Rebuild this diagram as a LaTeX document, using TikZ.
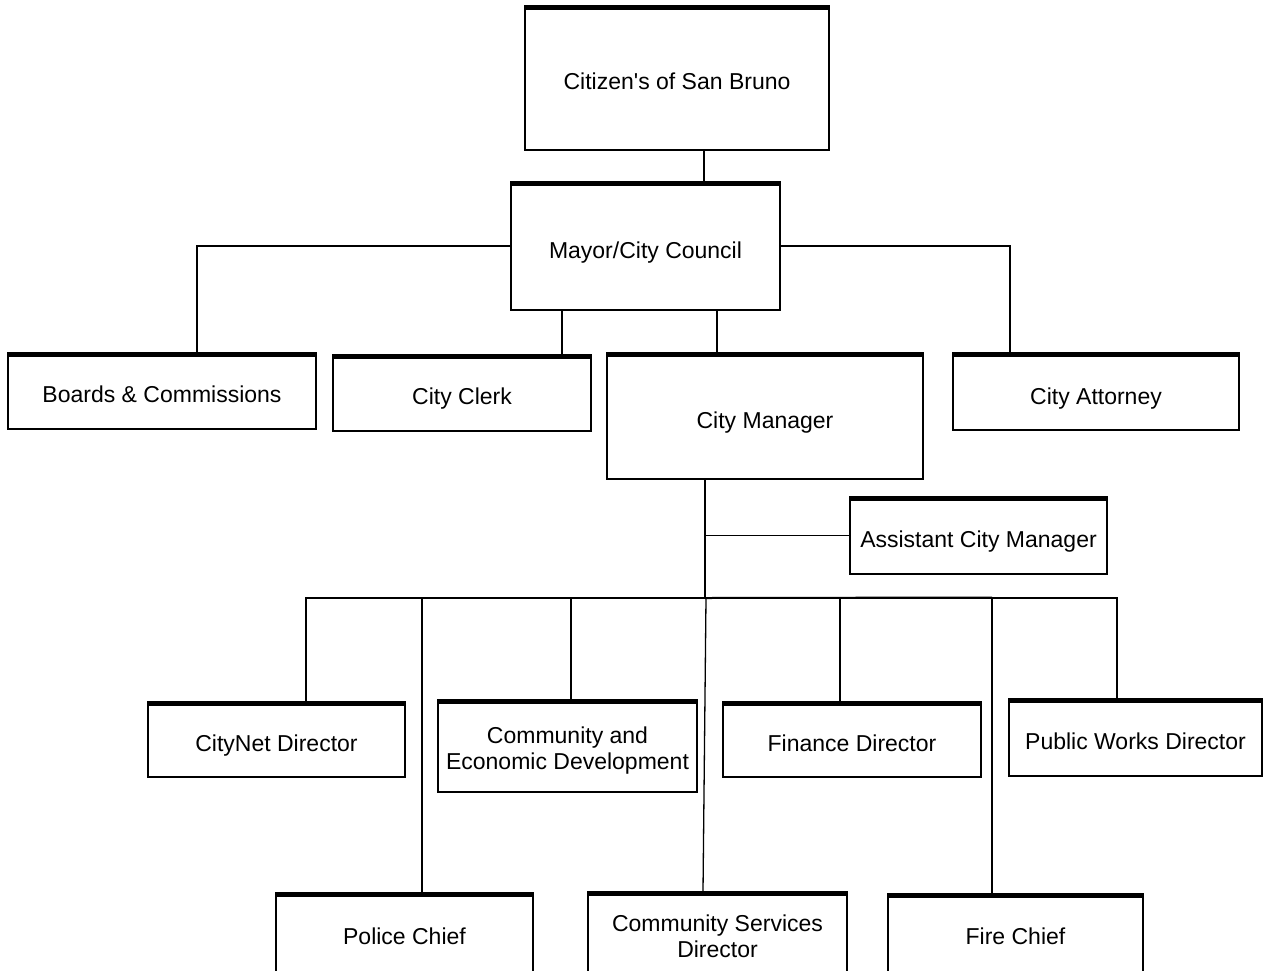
\documentclass[tikz,border=0pt]{standalone}
\usepackage{fontspec}
\setmainfont{Liberation Sans}[Ligatures=TeXOff]
\begin{document}
\begin{tikzpicture}[x=1pt,y=-1pt,
  box/.style={draw, line width=1.4pt, rectangle, inner sep=0pt},
  txt/.style={align=center, inner sep=0pt, text depth=0pt, font=\fontsize{23}{26}\selectfont},
  conn/.style={line width=1.3pt},
  thickconn/.style={line width=2.6pt}]
\useasboundingbox (0,0) rectangle (1263,970);
\clip (0,0) rectangle (1263,970);
\fill[white] (0,0) rectangle (1263,970);
% boxes
\node[box, minimum width=304pt, minimum height=144pt] (citizen) at (677,78) {};
\node[box, minimum width=269pt, minimum height=128pt] (mayor) at (645.5,246) {};
\node[box, minimum width=308pt, minimum height=76pt] (boards) at (162,391) {};
\node[box, minimum width=258pt, minimum height=76pt] (clerk) at (462,393) {};
\node[box, minimum width=316pt, minimum height=126pt] (cm) at (765,416) {};
\node[box, minimum width=286pt, minimum height=77pt] (attorney) at (1096,391.5) {};
\node[box, minimum width=257pt, minimum height=77pt] (asst) at (978.5,535.5) {};
\node[box, minimum width=257pt, minimum height=75pt] (citynet) at (276.5,739.5) {};
\node[box, minimum width=259pt, minimum height=92pt] (ced) at (567.5,746) {};
\node[box, minimum width=258pt, minimum height=75pt] (finance) at (852,739.5) {};
\node[box, minimum width=253pt, minimum height=77pt] (pw) at (1135.5,737.5) {};
\node[box, minimum width=257pt, minimum height=87pt] (police) at (404.5,936.5) {};
\node[box, minimum width=259pt, minimum height=88pt] (csd) at (717.5,936) {};
\node[box, minimum width=255pt, minimum height=86pt] (fire) at (1015.5,937) {};
% texts
\node[txt] (citizenT) at ([yshift=-3pt]citizen.center) {Citizen's of San Bruno};
\node[txt] (mayorT) at ([yshift=-4pt]mayor.center) {Mayor/City Council};
\node[txt] (boardsT) at ([yshift=-3pt]boards.center) {Boards \& Commissions};
\node[txt] (clerkT) at ([yshift=-3pt]clerk.center) {City Clerk};
\node[txt] (cmT) at ([yshift=-4pt]cm.center) {City Manager};
\node[txt] (attorneyT) at ([yshift=-4.5pt]attorney.center) {City Attorney};
\node[txt] (asstT) at ([yshift=-3.5pt]asst.center) {Assistant City Manager};
\node[txt] (citynetT) at ([yshift=-3.5pt]citynet.center) {CityNet Director};
\node[txt] (cedT) at ([yshift=-2pt]ced.center) {Community and\\Economic Development};
\node[txt] (financeT) at ([yshift=-3.5pt]finance.center) {Finance Director};
\node[txt] (pwT) at ([yshift=-3.5pt]pw.center) {Public Works Director};
\node[txt] (policeT) at (police.center) {Police Chief};
\node[txt] (csdT) at (csd.center) {Community Services\\Director};
\node[txt] (fireT) at ([yshift=1pt]fire.center) {Fire Chief};
% thick top bars
\foreach \n in {citizen,mayor,boards,clerk,cm,attorney,asst,citynet,ced,finance,pw,police,csd,fire}
  \fill ([yshift=0.7pt]\n.north west) rectangle ([yshift=-4.5pt]\n.north east);
% connectors
\draw[conn] (citizen.south -| 704,0) -- (mayor.north -| 704,0);
\draw[conn] (mayor.west) -| (boards.north -| 197,0);
\draw[conn] (mayor.east) -| (attorney.north -| 1010,0);
\draw[conn] (mayor.south -| 562,0) -- (clerk.north -| 562,0);
\draw[conn] (mayor.south -| 717,0) -- (cm.north -| 717,0);
\coordinate (bus) at (705,598);
\coordinate (busL) at (306,598);
\coordinate (busR) at (1117,598);
\coordinate (j1) at (705,535.5);
\draw[thickconn] (cm.south -| bus) -- (bus);
\draw[conn] (j1) -- (asst.west);
\draw[conn] (citynet.north -| busL) -- (busL) -- (busR) -- (pw.north -| busR);
\draw[line width=2pt] (bus) -- (992,597.5);
\draw[conn] (422,598) -- (police.north -| 422,0);
\draw[conn] (571,598) -- (ced.north -| 571,0);
\draw[conn] (706,598) -- (csd.north -| 703,0);
\draw[conn] (840,598) -- (finance.north -| 840,0);
\draw[conn] (992,598) -- (fire.north -| 992,0);
\end{tikzpicture}
\end{document}
